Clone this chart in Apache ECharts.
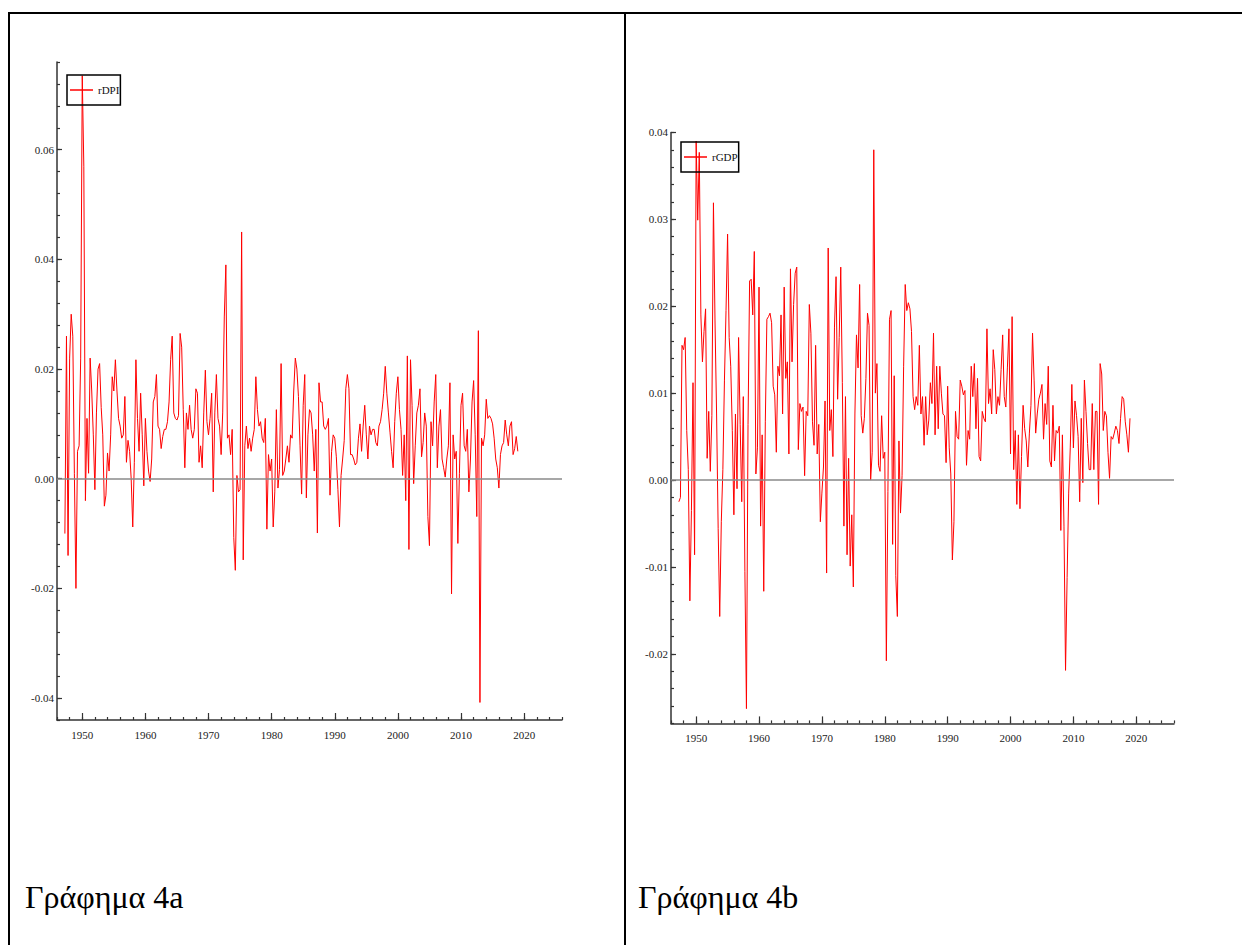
<!DOCTYPE html>
<html>
<head>
<meta charset="utf-8">
<title>Γράφημα 4a - 4b</title>
<script src="https://cdn.jsdelivr.net/npm/echarts@6.0.0/dist/echarts.min.js"></script>
<style>
  html, body { margin: 0; padding: 0; background: #fff; }
  #chart-panel { width: 1242px; height: 945px; }
</style>
</head>
<body>
<div id="chart-panel"></div>
<script>
// quarterly log growth, first value = 1947Q2, last = 2019Q1
var startYear = 1947.25;

var rDPI = [
  -0.0100, 0.0260, -0.0140, 0.0220, 0.0300, 0.0260, 0.0010, -0.0200,
  0.0050, 0.0060, 0.0220, 0.0735, 0.0570, -0.0040, 0.0110, 0.0010,
  0.0220, 0.0160, 0.0080, -0.0020, 0.0120, 0.0200, 0.0210, 0.0130,
  0.0080, -0.0050, -0.0030, 0.0047, 0.0014, 0.0080, 0.0186, 0.0160,
  0.0217, 0.0160, 0.0110, 0.0096, 0.0074, 0.0080, 0.0150, 0.0030,
  0.0070, 0.0050, 0.0000, -0.0088, 0.0030, 0.0217, 0.0110, 0.0050,
  0.0156, 0.0080, -0.0013, 0.0110, 0.0050, 0.0014, -0.0005, 0.0036,
  0.0140, 0.0150, 0.0190, 0.0096, 0.0090, 0.0055, 0.0077, 0.0090,
  0.0090, 0.0104, 0.0140, 0.0217, 0.0260, 0.0120, 0.0110, 0.0107,
  0.0115, 0.0265, 0.0240, 0.0126, 0.0020, 0.0120, 0.0090, 0.0134,
  0.0090, 0.0074, 0.0090, 0.0164, 0.0156, 0.0030, 0.0060, 0.0020,
  0.0120, 0.0198, 0.0104, 0.0080, 0.0110, 0.0156, -0.0024, 0.0120,
  0.0190, 0.0110, 0.0096, 0.0044, 0.0120, 0.0295, 0.0390, 0.0074,
  0.0080, 0.0044, 0.0090, -0.0107, -0.0167, 0.0006, -0.0024, -0.0020,
  0.0450, -0.0148, 0.0060, 0.0096, 0.0055, 0.0074, 0.0050, 0.0074,
  0.0090, 0.0186, 0.0126, 0.0096, 0.0104, 0.0074, 0.0066, 0.0110,
  -0.0092, 0.0044, 0.0014, 0.0036, -0.0088, -0.0024, 0.0126, -0.0017,
  0.0017, 0.0210, 0.0006, 0.0014, 0.0036, 0.0060, 0.0030, 0.0080,
  0.0074, 0.0160, 0.0220, 0.0200, 0.0150, 0.0060, -0.0028, 0.0134,
  0.0190, -0.0035, 0.0080, 0.0126, 0.0120, 0.0080, 0.0014, 0.0090,
  -0.0099, 0.0175, 0.0140, 0.0140, 0.0096, 0.0090, 0.0096, 0.0110,
  -0.0030, 0.0050, 0.0080, 0.0074, 0.0040, -0.0020, -0.0088, 0.0006,
  0.0036, 0.0070, 0.0164, 0.0190, 0.0164, 0.0044, 0.0044, 0.0036,
  0.0025, 0.0030, 0.0074, 0.0100, 0.0050, 0.0096, 0.0134, 0.0080,
  0.0036, 0.0096, 0.0080, 0.0090, 0.0090, 0.0066, 0.0060, 0.0096,
  0.0104, 0.0126, 0.0156, 0.0205, 0.0156, 0.0120, 0.0085, 0.0050,
  0.0020, 0.0104, 0.0156, 0.0186, 0.0126, 0.0090, 0.0006, 0.0080,
  -0.0040, 0.0224, -0.0129, 0.0217, 0.0134, -0.0009, 0.0060, 0.0120,
  0.0134, 0.0164, 0.0040, 0.0066, 0.0120, 0.0096, -0.0069, -0.0122,
  0.0104, 0.0060, 0.0140, 0.0190, 0.0020, 0.0096, 0.0126, 0.0036,
  0.0020, 0.0003, 0.0036, 0.0060, 0.0175, -0.0210, 0.0080, 0.0036,
  0.0050, -0.0118, 0.0010, 0.0134, 0.0156, 0.0060, 0.0050, 0.0090,
  -0.0024, 0.0036, 0.0140, 0.0179, 0.0080, -0.0069, 0.0270, -0.0408,
  0.0074, 0.0060, 0.0080, 0.0145, 0.0110, 0.0115, 0.0110, 0.0100,
  0.0074, 0.0036, 0.0020, -0.0017, 0.0044, 0.0060, 0.0066, 0.0107,
  0.0080, 0.0060, 0.0096, 0.0104, 0.0044, 0.0055, 0.0077, 0.0050
];

// real GDP (right panel)
var rGDP = [
  -0.0025, -0.0020, 0.0155,
  0.0150, 0.0164, 0.0057, 0.0012,   -0.0139, -0.0035, 0.0112, -0.0086,
  0.0390, 0.0299, 0.0377, 0.0190,   0.0136, 0.0171, 0.0197, 0.0025,
  0.0079, 0.0010, 0.0074, 0.0319,   0.0183, 0.0076, -0.0056, -0.0157,
  -0.0048, 0.0012, 0.0115, 0.0195,  0.0283, 0.0164, 0.0131, 0.0057,
  -0.0040, 0.0076, -0.0010, 0.0164, 0.0064, -0.0025, 0.0096, -0.0105,
  -0.0263, 0.0064, 0.0229, 0.0231,  0.0190, 0.0263, 0.0007, 0.0037,
  0.0222, -0.0053, 0.0052, -0.0128, 0.0067, 0.0185, 0.0188, 0.0192,
  0.0181, 0.0108, 0.0098, 0.0032,   0.0131, 0.0120, 0.0190, 0.0076,
  0.0222, 0.0117, 0.0136, 0.0030,   0.0243, 0.0136, 0.0202, 0.0238,
  0.0245, 0.0035, 0.0088, 0.0079,   0.0084, 0.0005, 0.0079, 0.0074,
  0.0202, 0.0169, 0.0067, 0.0040,   0.0155, 0.0030, 0.0064, -0.0048,
  -0.0015, 0.0015, 0.0091, -0.0107, 0.0267, 0.0057, 0.0081, 0.0027,
  0.0176, 0.0234, 0.0093, 0.0164,   0.0245, 0.0112, -0.0053, 0.0096,
  -0.0086, 0.0025, -0.0099, -0.0040, -0.0123, 0.0076, 0.0167, 0.0129,
  0.0225, 0.0074, 0.0054, 0.0071,   0.0117, 0.0192, 0.0178, 0.0000,
  0.0032, 0.0380, 0.0100, 0.0134,   0.0017, 0.0010, 0.0074, 0.0025,
  0.0032, -0.0208, -0.0013, 0.0185, 0.0195, -0.0074, 0.0120, -0.0110,
  -0.0157, 0.0045, -0.0038, 0.0005, 0.0131, 0.0225, 0.0195, 0.0204,
  0.0197, 0.0171, 0.0096, 0.0081,   0.0096, 0.0086, 0.0155, 0.0076,
  0.0096, 0.0040, 0.0096, 0.0052,   0.0069, 0.0112, 0.0088, 0.0169,
  0.0052, 0.0131, 0.0059, 0.0131,   0.0100, 0.0076, 0.0074, 0.0020,
  0.0108, 0.0037, 0.0007, -0.0092,  -0.0048, 0.0079, 0.0050, 0.0047,
  0.0115, 0.0108, 0.0098, 0.0103,   0.0017, 0.0057, 0.0047, 0.0131,
  0.0096, 0.0134, 0.0059, 0.0117,   0.0027, 0.0022, 0.0079, 0.0071,
  0.0067, 0.0174, 0.0088, 0.0105,   0.0076, 0.0150, 0.0127, 0.0076,
  0.0096, 0.0086, 0.0127, 0.0167,   0.0096, 0.0084, 0.0129, 0.0174,
  0.0030, 0.0188, 0.0012, 0.0057,   -0.0028, 0.0052, -0.0033, 0.0027,
  0.0086, 0.0059, 0.0045, 0.0015,   0.0054, 0.0086, 0.0169, 0.0115,
  0.0054, 0.0076, 0.0093, 0.0100,   0.0110, 0.0047, 0.0088, 0.0064,
  0.0131, 0.0022, 0.0015, 0.0086,   0.0022, 0.0057, 0.0054, 0.0062,
  -0.0058, 0.0052, -0.0053, -0.0219, -0.0112, -0.0015, 0.0037, 0.0110,
  0.0037, 0.0091, 0.0074, 0.0050,   -0.0025, 0.0071, -0.0003, 0.0115,
  0.0079, 0.0042, 0.0012, 0.0012,   0.0088, 0.0012, 0.0079, 0.0079,
  -0.0028, 0.0134, 0.0122, 0.0057,  0.0079, 0.0074, 0.0032, 0.0002,
  0.0050, 0.0047, 0.0054, 0.0062,   0.0057, 0.0042, 0.0071, 0.0096,
  0.0093, 0.0067, 0.0052, 0.0032,
  0.0071
];

var yearLabels = [1950, 1960, 1970, 1980, 1990, 2000, 2010, 2020];
var dpiLabels = [-0.04, -0.02, 0.00, 0.02, 0.04, 0.06];
var gdpLabels = [-0.02, -0.01, 0.00, 0.01, 0.02, 0.03, 0.04];
var captions = ['Γράφημα 4a', 'Γράφημα 4b'];

var FONT = '"Liberation Serif", "DejaVu Serif", serif';
var AXIS_COLOR = '#333';

function toPairs(values) {
  return values.map(function (v, i) { return [startYear + i / 4, v]; });
}

function xAxes(gridIndex) {
  return [
    {
      // minor ticks every 2 years + axis line
      type: 'value', gridIndex: gridIndex, position: 'bottom',
      min: 1946, max: 2026, interval: 2,
      axisLine: { onZero: false, lineStyle: { color: AXIS_COLOR, width: 1.5 } },
      axisTick: { inside: true, length: 3, lineStyle: { color: AXIS_COLOR, width: 1.2 } },
      axisLabel: { show: false },
      splitLine: { show: false }
    },
    {
      // decade ticks and labels
      type: 'value', gridIndex: gridIndex, position: 'bottom',
      min: 1946, max: 2026,
      axisLine: { show: false, onZero: false },
      axisTick: { inside: true, length: 7, customValues: yearLabels, lineStyle: { color: AXIS_COLOR, width: 1.2 } },
      axisLabel: {
        customValues: yearLabels, margin: 9,
        fontFamily: FONT, fontSize: 11, color: '#222',
        formatter: function (v) { return String(Math.round(v)); }
      },
      splitLine: { show: false }
    }
  ];
}

function yAxes(gridIndex, min, max, step, labels) {
  return [
    {
      type: 'value', gridIndex: gridIndex, position: 'left',
      min: min, max: max, interval: step,
      axisLine: { show: true, onZero: false, lineStyle: { color: AXIS_COLOR, width: 1.5 } },
      axisTick: { inside: true, length: 3, lineStyle: { color: AXIS_COLOR, width: 1.2 } },
      axisLabel: { show: false },
      splitLine: { show: false }
    },
    {
      type: 'value', gridIndex: gridIndex, position: 'left',
      min: min, max: max,
      axisLine: { show: false, onZero: false },
      axisTick: { inside: true, length: 5, customValues: labels, lineStyle: { color: AXIS_COLOR, width: 1.2 } },
      axisLabel: {
        customValues: labels, margin: 3,
        fontFamily: FONT, fontSize: 11, color: '#222',
        formatter: function (v) { return v.toFixed(2); }
      },
      splitLine: { show: false }
    }
  ];
}

function lineSeries(name, values, axisIndex) {
  return {
    type: 'line', name: name,
    xAxisIndex: axisIndex, yAxisIndex: axisIndex,
    data: toPairs(values),
    symbol: 'none',
    lineStyle: { color: '#ff0000', width: 1 },
    itemStyle: { color: '#ff0000' },
    markLine: {
      silent: true, symbol: 'none',
      label: { show: false },
      lineStyle: { color: '#8a8a8a', width: 1.5, type: 'solid' },
      data: [{ yAxis: 0 }]
    }
  };
}

function legendBox(name, left, top) {
  return {
    data: [{ name: name, icon: 'rect' }], left: left, top: top,
    orient: 'horizontal',
    borderColor: '#000', borderWidth: 1.5,
    padding: [8, 1, 8, 3],
    itemWidth: 23, itemHeight: 1.5,
    textStyle: { fontFamily: FONT, fontSize: 11, lineHeight: 14, color: '#111' }
  };
}

var chart = echarts.init(document.getElementById('chart-panel'), null, { renderer: 'svg' });

var option = {
  backgroundColor: '#fff',
  animation: false,
  grid: [
    { left: 57, top: 62, width: 505, height: 658 },
    { left: 671, top: 132.4, width: 503, height: 591 }
  ],
  xAxis: xAxes(0).concat(xAxes(1)),
  yAxis: yAxes(0, -0.044, 0.076, 0.004, dpiLabels).concat(yAxes(1, -0.028, 0.04, 0.002, gdpLabels)),
  legend: [legendBox('rDPI', 67, 75), legendBox('rGDP', 681, 142)],
  series: [
    lineSeries('rDPI', rDPI, 0),
    lineSeries('rGDP', rGDP, 2)
  ],
  graphic: [
    // table frame
    { type: 'line', shape: { x1: 8, y1: 13, x2: 1242, y2: 13 }, style: { stroke: '#000', lineWidth: 2 } },
    { type: 'line', shape: { x1: 9, y1: 12, x2: 9, y2: 945 }, style: { stroke: '#000', lineWidth: 2 } },
    { type: 'line', shape: { x1: 625, y1: 12, x2: 625, y2: 945 }, style: { stroke: '#000', lineWidth: 2 } },
    {
      type: 'text', x: 25, y: 897,
      style: { text: captions[0], fontFamily: FONT, fontSize: 32, fill: '#000', verticalAlign: 'middle' }
    },
    {
      type: 'text', x: 638, y: 897,
      style: { text: captions[1], fontFamily: FONT, fontSize: 32, fill: '#000', verticalAlign: 'middle' }
    }
  ]
};

chart.setOption(option);
</script>
</body>
</html>
